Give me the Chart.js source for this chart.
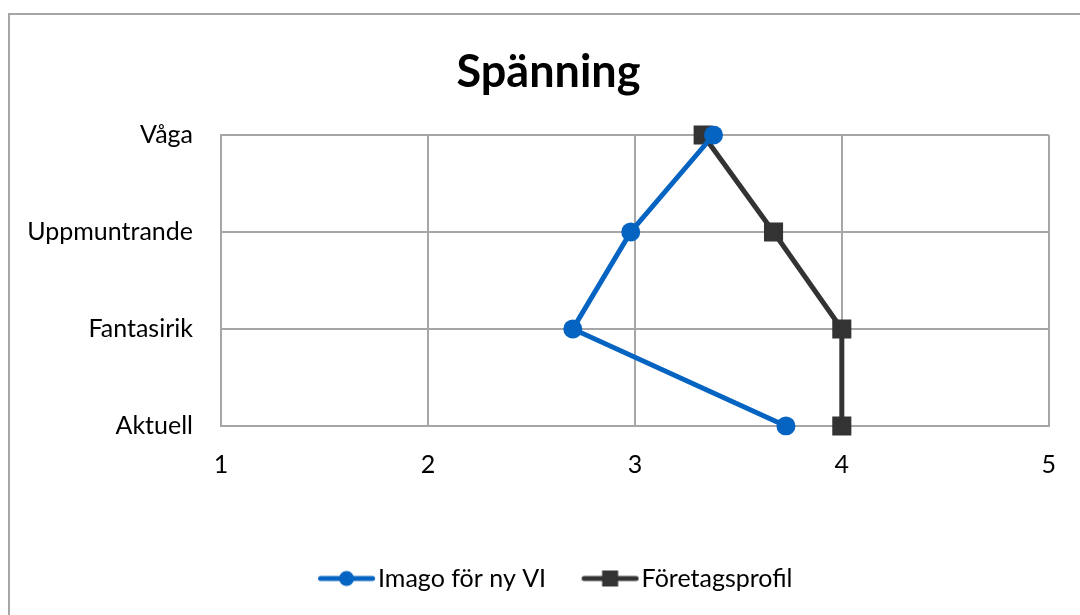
<!DOCTYPE html>
<html>
<head>
<meta charset="utf-8">
<script src="https://cdn.jsdelivr.net/npm/chart.js@4"></script>
<style>
    body { margin: 0; background: #fff; }
    #wrap { position: relative; width: 1080px; height: 615px; overflow: hidden; }
    #ram { position: absolute; left: 8px; top: 13px; width: 1200px; height: 700px; border: 2px solid #a6a6a6; }
    #grafico { position: absolute; left: 0; top: 0; }
</style>
</head>
<body>
<div id="wrap">
    <div id="ram"></div>
    <canvas id="grafico" width="1080" height="615"></canvas>
</div>
<script>
const kategorier = ["Våga", "Uppmuntrande", "Fantasirik", "Aktuell"];
const imago = [3.38, 2.98, 2.70, 3.73];
const foretagsprofil = [3.33, 3.67, 4.0, 4.0];
const serienamn = ["Imago för ny VI", "Företagsprofil"];

const blaa = '#0563c1';
const svart = '#333333';
const grid = '#a6a6a6';
const typsnitt = 'Lato';

// ikon for legenden: linje med markor i mitten
const boxBredd = 73;
const marginal = 26;
function legendIkon(farg, form) {
    const W = 200, H = 20;
    const c = document.createElement('canvas');
    c.width = W; c.height = H;
    const ctx = c.getContext('2d');
    const start = W / 2 - boxBredd / 2 + marginal;
    ctx.strokeStyle = farg;
    ctx.lineWidth = 5;
    ctx.lineCap = 'round';
    ctx.beginPath();
    ctx.moveTo(start + 2, H / 2);
    ctx.lineTo(start + 54, H / 2);
    ctx.stroke();
    ctx.fillStyle = farg;
    const mitt = start + 28;
    if (form == 'circle') {
        ctx.beginPath();
        ctx.arc(mitt, H / 2, 7.5, 0, Math.PI * 2);
        ctx.fill();
    } else {
        ctx.fillRect(mitt - 8, H / 2 - 8, 16, 16);
    }
    return c;
}
const ikoner = [legendIkon(blaa, 'circle'), legendIkon(svart, 'rect')];

// flyttar rubrik och legend lite at hoger (som i excel)
const flytta = {
    id: 'flytta',
    afterLayout: function (chart) {
        if (chart.legend) { chart.legend.left += 18; chart.legend.right += 18; }
        if (chart.titleBlock) { chart.titleBlock.left += 24; chart.titleBlock.right += 24; }
    }
};

const config = {
    type: 'line',
    data: {
        labels: kategorier,
        datasets: [
            {
                label: serienamn[0],
                data: imago,
                borderColor: blaa,
                backgroundColor: blaa,
                borderWidth: 5,
                pointStyle: 'circle',
                pointRadius: 9.5,
                pointHoverRadius: 9.5,
                pointBorderWidth: 0
            },
            {
                label: serienamn[1],
                data: foretagsprofil,
                borderColor: svart,
                backgroundColor: svart,
                borderWidth: 5,
                pointStyle: 'rect',
                pointRadius: 13.5,
                pointHoverRadius: 13.5,
                pointBorderWidth: 0
            }
        ]
    },
    options: {
        indexAxis: 'y',
        responsive: false,
        animation: false,
        layout: {
            padding: { left: 0, right: 31, top: 20, bottom: 14 }
        },
        scales: {
            x: {
                type: 'linear',
                min: 1,
                max: 5,
                ticks: {
                    stepSize: 1,
                    padding: 24,
                    color: '#000',
                    font: { family: typsnitt, size: 25 }
                },
                grid: { color: grid, lineWidth: 2, drawTicks: false },
                border: { color: grid, width: 2 },
                afterFit: function (scale) { scale.height = 130; }
            },
            y: {
                type: 'category',
                offset: false,
                ticks: {
                    padding: 28,
                    color: '#000',
                    font: { family: typsnitt, size: 25 }
                },
                grid: { color: grid, lineWidth: 2, drawTicks: false },
                border: { color: grid, width: 2 },
                afterFit: function (scale) { scale.width = 221; }
            }
        },
        plugins: {
            title: {
                display: true,
                text: 'Spänning',
                color: '#000',
                font: { family: typsnitt, size: 45, weight: 'bold' },
                padding: { top: 25, bottom: 36 }
            },
            legend: {
                position: 'bottom',
                labels: {
                    usePointStyle: true,
                    pointStyleWidth: boxBredd,
                    boxHeight: 20,
                    padding: 10,
                    color: '#000',
                    font: { family: typsnitt, size: 25 },
                    generateLabels: function (chart) {
                        const items = Chart.defaults.plugins.legend.labels.generateLabels(chart);
                        items.forEach(function (it, i) { it.pointStyle = ikoner[i]; });
                        return items;
                    }
                }
            },
            tooltip: { enabled: false }
        }
    },
    plugins: [flytta]
};

const grafico = new Chart(document.getElementById('grafico'), config);
</script>
</body>
</html>
